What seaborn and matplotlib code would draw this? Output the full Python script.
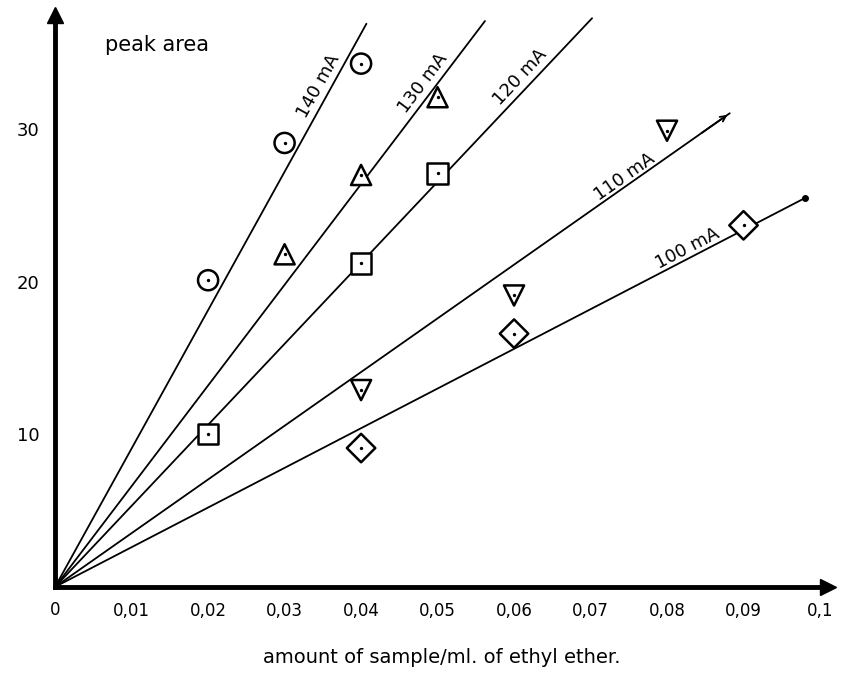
import numpy as np
import pandas as pd
import matplotlib
matplotlib.use("Agg")
import matplotlib.pyplot as plt
import seaborn as sns

# --- data ---
currents = ["140 mA", "130 mA", "120 mA", "110 mA", "100 mA"]
markers = ["o", "^", "s", "v", "D"]

x_140 = [0.02, 0.03, 0.04]
y_140 = [20.1, 29.1, 34.3]
x_130 = [0.03, 0.04, 0.05]
y_130 = [21.8, 27.0, 32.1]
x_120 = [0.02, 0.04, 0.05]
y_120 = [10.0, 21.2, 27.1]
x_110 = [0.04, 0.06, 0.08]
y_110 = [12.9, 19.1, 29.9]
x_100 = [0.04, 0.06, 0.09]
y_100 = [9.1, 16.6, 23.7]

# fitted lines through origin: slope and x where the drawn line stops
slopes = [907, 660, 531, 352, 260]
line_end = [0.0407, 0.0562, 0.0702, 0.0882, 0.0980]

x_ticks = [0.01, 0.02, 0.03, 0.04, 0.05, 0.06, 0.07, 0.08, 0.09, 0.1]
x_ticklabels = ["0,01", "0,02", "0,03", "0,04", "0,05", "0,06", "0,07", "0,08", "0,09", "0,1"]
y_ticks = [10, 20, 30]

pts = pd.DataFrame({
    "x": x_140 + x_130 + x_120 + x_110 + x_100,
    "y": y_140 + y_130 + y_120 + y_110 + y_100,
    "current": sum([[c] * 3 for c in currents], []),
})

lines = pd.DataFrame({
    "x": sum([[0.0, e] for e in line_end], []),
    "y": sum([[0.0, s * e] for s, e in zip(slopes, line_end)], []),
    "current": sum([[c] * 2 for c in currents], []),
})

sns.set_style("white")
plt.rcParams.update({"text.color": "black", "axes.labelcolor": "black",
                     "xtick.color": "black", "ytick.color": "black"})
fig = plt.figure(figsize=(8.48, 6.73), dpi=100)
ax = fig.add_axes([0.065, 0.128, 0.911, 0.85])

sns.lineplot(data=lines, x="x", y="y", units="current", estimator=None,
             color="black", lw=1.3, ax=ax, legend=False)
sns.scatterplot(data=pts, x="x", y="y", style="current", markers=dict(zip(currents, markers)),
                s=210, facecolor="white", edgecolor="black", linewidth=1.8,
                ax=ax, legend=False, zorder=3)
ax.scatter(pts["x"], pts["y"], s=2, color="black", zorder=4)

# line labels along the lines
label_pos = [(0.0344, 32.8, 61), (0.0481, 33.0, 53), (0.0608, 33.4, 47),
             (0.0745, 26.9, 35), (0.0827, 22.2, 27.5)]
for lab, (lx, ly, rot) in zip(currents, label_pos):
    ax.text(lx, ly, lab, rotation=rot, rotation_mode="anchor", ha="center", va="center",
            fontsize=13)

# end decorations of the two lower lines
ax.annotate("", xy=(line_end[3], slopes[3] * line_end[3]),
            xytext=(line_end[3] - 0.004, slopes[3] * (line_end[3] - 0.004)),
            arrowprops=dict(arrowstyle="->", lw=1.3, color="black"))
ax.plot(line_end[4], slopes[4] * line_end[4], "o", ms=4, color="black")

ax.set_xlim(0, 0.101)
ax.set_ylim(0, 37.5)
ax.set_xticks(x_ticks)
ax.set_xticklabels(x_ticklabels, fontsize=12)
ax.set_yticks(y_ticks)
ax.set_yticklabels([str(v) for v in y_ticks], fontsize=13)
ax.tick_params(axis="both", direction="out", length=6, width=1.5, color="black", pad=5)
ax.set_xlabel("amount of sample/ml. of ethyl ether.", fontsize=14, labelpad=20)
ax.set_ylabel("")

for side in ["top", "right"]:
    ax.spines[side].set_visible(False)
for side in ["left", "bottom"]:
    ax.spines[side].set_linewidth(3.5)
    ax.spines[side].set_color("black")

# arrow heads on the axes
ax.plot(1, 0, ">", ms=12, color="black", transform=ax.transAxes, clip_on=False)
ax.plot(0, 1, "^", ms=12, color="black", transform=ax.transAxes, clip_on=False)

ax.text(0.0065, 35.5, "peak area", fontsize=15, ha="left", va="center")
ax.text(0, -1.5, "0", fontsize=12, ha="center", va="center")

fig.savefig("out.png", dpi=100)
